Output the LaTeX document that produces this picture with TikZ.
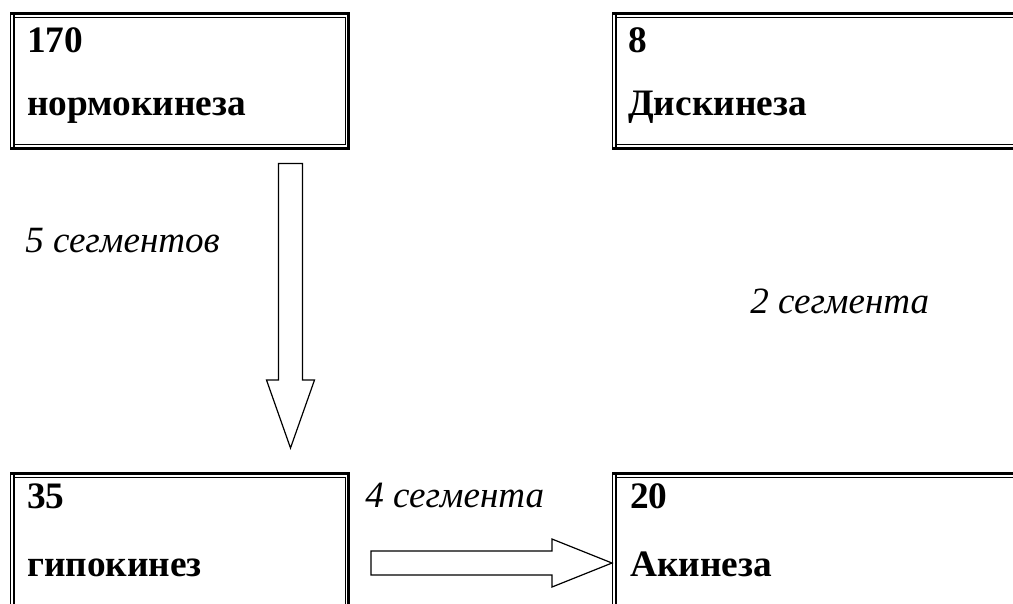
\documentclass[tikz,border=0pt]{standalone}
\usepackage{fontspec}
\setmainfont{Liberation Serif}
\usetikzlibrary{calc}
\tikzset{
  thickln/.style={line width=1.9pt},
  thinln/.style={line width=0.75pt},
  lbl/.style={inner sep=0pt, anchor=base west, font=\fontsize{28}{33}\selectfont\bfseries},
  seg/.style={inner sep=0pt, anchor=base west, font=\fontsize{27.8}{33}\selectfont\itshape},
  blockarrow/.style={draw=black, line width=0.9pt, fill=white, line join=miter},
  boxnode/.style={inner sep=0pt, draw=none}
}
% #1 name, #2 x1, #3 y1, #4 x2, #5 y2  (outer edges, in px)
\newcommand\dblbox[5]{%
  \node[boxnode, minimum width={(#4-#2)*0.75}, minimum height={(#5-#3)*0.75}] (#1) at ({(#2+#4)/2},{(#3+#5)/2}) {};
  \draw[thickln] (#2,#3+1.25) -- (#4,#3+1.25);
  \draw[thickln] (#4-1.25,#3) -- (#4-1.25,#5);
  \draw[thickln] (#2,#5-1.25) -- (#4,#5-1.25);
  \draw[thinln] (#2+0.5,#3) -- (#2+0.5,#5);
  \draw[thickln] (#2+4,#3+2.5) -- (#2+4,#5-2.5);
  \draw[thinln] (#2+5,#3+5) -- (#4-5,#3+5) -- (#4-5,#5-5.5) -- (#2+5,#5-5.5);
}
\begin{document}
\begin{tikzpicture}[x=0.75pt,y=-0.75pt]
\clip (0,0) rectangle (1013,603);
\fill[white] (0,0) rectangle (1013,603);

\dblbox{bnorm}{10}{12.5}{350}{150}
\dblbox{bdisk}{612}{12.5}{1030}{150}
\dblbox{bhypo}{10}{472.5}{350}{620}
\dblbox{bakin}{612}{472.5}{1030}{620}

\node[lbl] (t170) at (27,52) {170};
\node[lbl] (tnorm) at (27,115) {нормокинеза};
\node[lbl] (t8) at (628,52) {8};
\node[lbl] (tdisk) at (628,115) {Дискинеза};
\node[lbl] (t35) at (27,508) {35};
\node[lbl] (thypo) at (27,576) {гипокинез};
\node[lbl] (t20) at (630,508) {20};
\node[lbl] (takin) at (630,576) {Акинеза};

\node[seg] (l5) at (25,252) {5 сегментов};
\node[seg] (l2) at (750,313) {2 сегмента};
\node[seg] (l4) at (365,507) {4 сегмента};

% vertical block arrow
\coordinate (va) at (290.5,163.5);
\coordinate (vb) at (290.5,448);
\draw[blockarrow] ($(va)+(-12,0)$) -- ($(va)+(12,0)$) -- (302.5,380) -- (314.5,380) -- (vb) -- (266.5,380) -- (278.5,380) -- cycle;

% horizontal block arrow
\coordinate (ha) at (371,563);
\coordinate (hb) at (612,563);
\draw[blockarrow] ($(ha)+(0,-12)$) -- (552,551) -- (552,539) -- (hb) -- (552,587) -- (552,575) -- ($(ha)+(0,12)$) -- cycle;
\end{tikzpicture}
\end{document}
